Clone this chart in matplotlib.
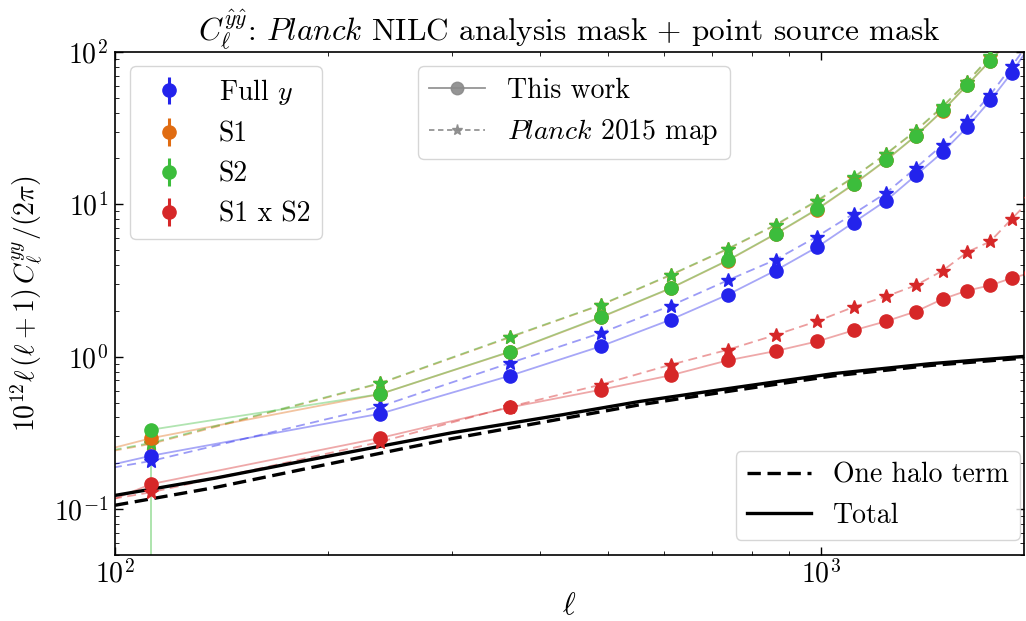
import numpy as np
import matplotlib
matplotlib.use("Agg")
import matplotlib.pyplot as plt
from matplotlib.lines import Line2D
from matplotlib.ticker import NullFormatter

# ---------------- data ----------------
ell = [50, 112.5, 237.5, 362.5, 487.5, 612.5, 737.5, 862.5, 987.5, 1112.5,
       1237.5, 1362.5, 1487.5, 1612.5, 1737.5, 1862.5, 1987.5]

full_this = [0.095, 0.224, 0.423, 0.75, 1.17, 1.75, 2.55, 3.68, 5.24, 7.60,
             10.6, 15.5, 22.0, 32.2, 48.1, 72.8, 114]
full_planck = [0.108, 0.207, 0.472, 0.909, 1.43, 2.16, 3.17, 4.33, 6.15, 8.68,
               11.9, 17.3, 24.6, 35.4, 52.4, 80.3, 122]
s1_this = [0.111, 0.292, 0.569, 1.075, 1.81, 2.81, 4.27, 6.38, 9.25, 13.5,
           19.5, 28.1, 41.1, 60.7, 87.5, 123, 178]
s1_planck = [0.135, 0.268, 0.668, 1.34, 2.18, 3.43, 5.08, 7.3, 10.5, 15.0,
             21.4, 30.3, 43.6, 63.6, 93.0, 131, 188]
s2_this = [np.nan, 0.332, 0.569, 1.08, 1.82, 2.82, 4.29, 6.41, 9.31, 13.6,
           19.6, 28.2, 41.3, 60.9, 87.9, 124, 180]
s2_planck = [0.135, 0.272, 0.672, 1.35, 2.19, 3.45, 5.11, 7.35, 10.6, 15.1,
             21.5, 30.5, 43.9, 64.0, 93.5, 132, 190]
x12_this = [0.032, 0.146, 0.293, 0.465, 0.607, 0.755, 0.946, 1.09, 1.26, 1.49,
            1.71, 1.98, 2.39, 2.72, 2.94, 3.28, 3.56]
x12_planck = [0.068, 0.129, 0.276, 0.47, 0.655, 0.886, 1.11, 1.39, 1.71, 2.12,
              2.49, 2.94, 3.67, 4.86, 5.71, 8.01, 10.9]

# S2 lower error at the first bin exceeds the value
s2_err_low = [0, 0.331, 0, 0, 0, 0, 0, 0, 0, 0, 0, 0, 0, 0, 0, 0, 0]
zero_err = [0] * 17

theory_ell = [100, 139, 200, 237, 300, 430, 554, 760, 1040, 1427, 1940, 2000]
total = [0.123, 0.160, 0.222, 0.258, 0.317, 0.416, 0.509, 0.630, 0.774, 0.90, 1.005, 1.015]
one_halo = [0.106, 0.139, 0.197, 0.232, 0.290, 0.392, 0.484, 0.604, 0.748, 0.876, 0.98, 0.99]

series_names = ["Full $y$", "S1", "S2", "S1 x S2"]
colors = ["#2323ec", "#e06c12", "#3cbd3c", "#d62728"]

# ---------------- style ----------------
plt.rcParams.update({
    "font.family": "serif",
    "font.serif": ["cmr10"],
    "mathtext.fontset": "cm",
    "axes.formatter.use_mathtext": True,
    "font.size": 20,
    "xtick.direction": "in",
    "ytick.direction": "in",
    "xtick.top": True,
    "ytick.right": True,
    "xtick.major.size": 6,
    "ytick.major.size": 6,
    "xtick.minor.size": 3,
    "ytick.minor.size": 3,
    "xtick.major.width": 1.0,
    "ytick.major.width": 1.0,
    "axes.linewidth": 1.2,
    "xtick.major.pad": 3.5,
    "ytick.major.pad": 5,
})

fig = plt.figure(figsize=(10.26, 6.21), dpi=100)
ax = fig.add_axes([0.1121, 0.1063, 0.886, 0.810])
ax.set_xscale("log")
ax.set_yscale("log")

this_list = [full_this, s1_this, s2_this, x12_this]
planck_list = [full_planck, s1_planck, s2_planck, x12_planck]
low_errs = [zero_err, zero_err, s2_err_low, zero_err]

# theory curves
ax.plot(theory_ell, one_halo, color="black", lw=2.4, ls=(0, (4, 2)), zorder=3)
ax.plot(theory_ell, total, color="black", lw=2.4, ls="-", zorder=3)

handles = []
for name, c, yt, yp, el in zip(series_names, colors, this_list, planck_list, low_errs):
    ax.plot(ell, yt, color=c, lw=1.3, alpha=0.4, zorder=2)
    ax.plot(ell, yp, color=c, lw=1.3, alpha=0.45, ls=(0, (5, 3)), zorder=2)
    # visible (faint) error bars
    ax.errorbar(ell, yt, yerr=[el, zero_err], fmt="none", ecolor=c,
                elinewidth=1.3, alpha=0.45, capsize=0, zorder=2)
    ax.plot(ell, yp, ls="none", marker="*", ms=10, color=c, mec=c, zorder=4)
    eb = ax.errorbar(ell, yt, yerr=[zero_err, zero_err], fmt="o", ms=9.5, color=c,
                     ecolor=c, elinewidth=2.2, capsize=0, zorder=5, label=name)
    handles.append(eb)

ax.set_xlim(100, 1940)
ax.set_ylim(0.05, 100)
ax.xaxis.set_minor_formatter(NullFormatter())
ax.yaxis.set_minor_formatter(NullFormatter())

ax.set_xlabel(r"$\ell$", fontsize=22, labelpad=3)
ax.set_ylabel(r"$10^{12}\ell\,(\ell+1)\,C_\ell^{yy}/(2\pi)$", fontsize=20, labelpad=6)
ax.set_title(r"$C_\ell^{\hat{y}\hat{y}}$: $\mathit{Planck}$ NILC analysis mask + point source mask",
             fontsize=22.5, pad=6)

leg1 = ax.legend(handles=handles, labels=series_names, loc="upper left",
                 bbox_to_anchor=(0.0165, 0.972), borderaxespad=0, fontsize=20)
ax.add_artist(leg1)

gray = "#8a8a8a"
h_this = Line2D([], [], color=gray, lw=1.3, marker="o", ms=9, alpha=0.9)
h_planck = Line2D([], [], color=gray, lw=1.3, ls=(0, (3, 2)), marker="*", ms=8, alpha=0.9)
leg2 = ax.legend([h_this, h_planck], ["This work", r"$\mathit{Planck}$ 2015 map"],
                 loc="upper left", bbox_to_anchor=(0.3333, 0.972), borderaxespad=0,
                 fontsize=20)
ax.add_artist(leg2)

h_1h = Line2D([], [], color="black", lw=2.4, ls=(0, (4, 2)))
h_tot = Line2D([], [], color="black", lw=2.4)
ax.legend([h_1h, h_tot], ["One halo term", "Total"], loc="lower right",
          bbox_to_anchor=(0.9956, 0.0298), borderaxespad=0, fontsize=20,
          handlelength=2.3)

fig.savefig("out.png", dpi=100)
